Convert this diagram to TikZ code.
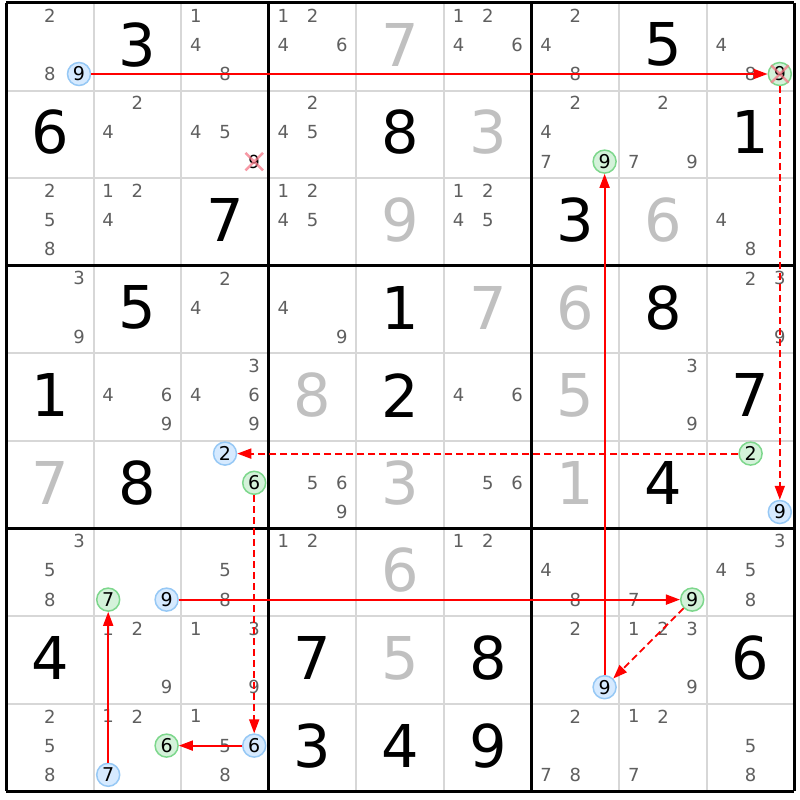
\documentclass[tikz,border=0pt]{standalone}
\usepackage{fontspec}
\setmainfont{DejaVu Sans}
\usetikzlibrary{arrows.meta}
\usetikzlibrary{shapes.misc}
\definecolor{blue1}{RGB}{214, 234, 255}
\definecolor{blue2}{RGB}{150, 200, 245}
\definecolor{green1}{RGB}{212, 242, 218}
\definecolor{green2}{RGB}{125, 215, 140}
\definecolor{gray1}{RGB}{95, 95, 95}
\definecolor{gray2}{RGB}{192, 192, 192}
\definecolor{grid1}{RGB}{215, 215, 215}
\definecolor{red1}{RGB}{255, 0, 0}
\definecolor{red2}{RGB}{245, 120, 135}

% candidate: [style]{row}{col}{digit}
\newcommand{\cand}[4][]{%
  \pgfmathsetmacro\px{6+87.6*(#3-1)+(mod(#4-1,3)+0.5)*29.2}%
  \pgfmathsetmacro\py{1+87.6*(#2-1)+(floor((#4-1)/3)+0.5)*29.2}%
  \node[cand,#1] (p#2#3#4) at (\px,\py) {#4};}
\newcommand{\cands}[3]{\foreach \d in {#3}{\cand{#1}{#2}{\d}}}
\newcommand{\given}[4][given]{%
  \node[#1] (g#2#3) at ({6+87.6*(#3-0.5)},{1+87.6*(#2-0.5)}) {#4};}
\newcommand{\solved}[3]{\given[solved]{#1}{#2}{#3}}

\begin{document}
\begin{tikzpicture}[x=1pt, y=-1pt,
  cand/.style={text=gray1, inner sep=0pt, font=\fontsize{18}{18}\selectfont},
  bluec/.style={circle, draw=blue2, fill=blue1, text=black, line width=1.5pt,
    minimum size=23pt, font=\fontsize{19}{19}\selectfont},
  greenc/.style={bluec, draw=green2, fill=green1},
  elim/.style={text=black},
  given/.style={inner sep=0pt, text=black, font=\fontsize{59}{59}\selectfont},
  solved/.style={given, text=gray2},
  xmark/.style={cross out, draw=red2, line width=2.5pt, minimum size=15pt, inner sep=0pt, opacity=.75},
  strong/.style={draw=red1, line width=1.8pt, -{Triangle[length=14pt,width=10pt]}},
  weak/.style={strong, dash pattern=on 7pt off 4pt}]
  \useasboundingbox[fill=white] (0,0) rectangle (800,800);

  % grid
  \foreach \i in {1,2,4,5,7,8} {
    \draw[grid1, line width=2pt] ({6+87.6*\i},3) -- ({6+87.6*\i},791.4);
    \draw[grid1, line width=2pt] (6,{3+87.6*\i}) -- (794.4,{3+87.6*\i});
  }
  \foreach \i in {0,3,6,9} {
    \draw[black, line width=3pt] ({6+87.6*\i},3) -- ({6+87.6*\i},791.4);
    \draw[black, line width=3pt] (6,{3+87.6*\i}) -- (794.4,{3+87.6*\i});
  }

  % row 1
  \cands{1}{1}{2,8} \cand[bluec]{1}{1}{9} \given{1}{2}{3} \cands{1}{3}{1,4,8}
  \cands{1}{4}{1,2,4,6} \solved{1}{5}{7} \cands{1}{6}{1,2,4,6}
  \cands{1}{7}{2,4,8} \given{1}{8}{5} \cands{1}{9}{4,8} \cand[greenc]{1}{9}{9}
  % row 2
  \given{2}{1}{6} \cands{2}{2}{2,4} \cands{2}{3}{4,5} \cand[elim]{2}{3}{9}
  \cands{2}{4}{2,4,5} \given{2}{5}{8} \solved{2}{6}{3}
  \cands{2}{7}{2,4,7} \cand[greenc]{2}{7}{9} \cands{2}{8}{2,7,9} \given{2}{9}{1}
  % row 3
  \cands{3}{1}{2,5,8} \cands{3}{2}{1,2,4} \given{3}{3}{7}
  \cands{3}{4}{1,2,4,5} \solved{3}{5}{9} \cands{3}{6}{1,2,4,5}
  \given{3}{7}{3} \solved{3}{8}{6} \cands{3}{9}{4,8}
  % row 4
  \cands{4}{1}{3,9} \given{4}{2}{5} \cands{4}{3}{2,4}
  \cands{4}{4}{4,9} \given{4}{5}{1} \solved{4}{6}{7}
  \solved{4}{7}{6} \given{4}{8}{8} \cands{4}{9}{2,3,9}
  % row 5
  \given{5}{1}{1} \cands{5}{2}{4,6,9} \cands{5}{3}{3,4,6,9}
  \solved{5}{4}{8} \given{5}{5}{2} \cands{5}{6}{4,6}
  \solved{5}{7}{5} \cands{5}{8}{3,9} \given{5}{9}{7}
  % row 6
  \solved{6}{1}{7} \given{6}{2}{8} \cand[bluec]{6}{3}{2} \cand[greenc]{6}{3}{6}
  \cands{6}{4}{5,6,9} \solved{6}{5}{3} \cands{6}{6}{5,6}
  \solved{6}{7}{1} \given{6}{8}{4} \cand[greenc]{6}{9}{2} \cand[bluec]{6}{9}{9}
  % row 7
  \cands{7}{1}{3,5,8} \cand[greenc]{7}{2}{7} \cand[bluec]{7}{2}{9} \cands{7}{3}{5,8}
  \cands{7}{4}{1,2} \solved{7}{5}{6} \cands{7}{6}{1,2}
  \cands{7}{7}{4,8} \cands{7}{8}{7} \cand[greenc]{7}{8}{9} \cands{7}{9}{3,4,5,8}
  % row 8
  \given{8}{1}{4} \cands{8}{2}{1,2,9} \cands{8}{3}{1,3,9}
  \given{8}{4}{7} \solved{8}{5}{5} \given{8}{6}{8}
  \cands{8}{7}{2} \cand[bluec]{8}{7}{9} \cands{8}{8}{1,2,3,9} \given{8}{9}{6}
  % row 9
  \cands{9}{1}{2,5,8} \cands{9}{2}{1,2} \cand[greenc]{9}{2}{6} \cand[bluec]{9}{2}{7}
  \cands{9}{3}{1,5,8} \cand[bluec]{9}{3}{6}
  \given{9}{4}{3} \given{9}{5}{4} \given{9}{6}{9}
  \cands{9}{7}{2,7,8} \cands{9}{8}{1,2,7} \cands{9}{9}{5,8}

  % eliminations
  \node[xmark] (x199) at (p199) {};
  \node[xmark] (x239) at (p239) {};

  % chain
  \foreach \from/\to in {p119/p199, p936/p926, p927/p727, p729/p789, p879/p279}
    \draw[strong] (\from) -- (\to);
  \foreach \from/\to in {p199/p699, p692/p632, p636/p936, p789/p879}
    \draw[weak] (\from) -- (\to);
\end{tikzpicture}
\end{document}
